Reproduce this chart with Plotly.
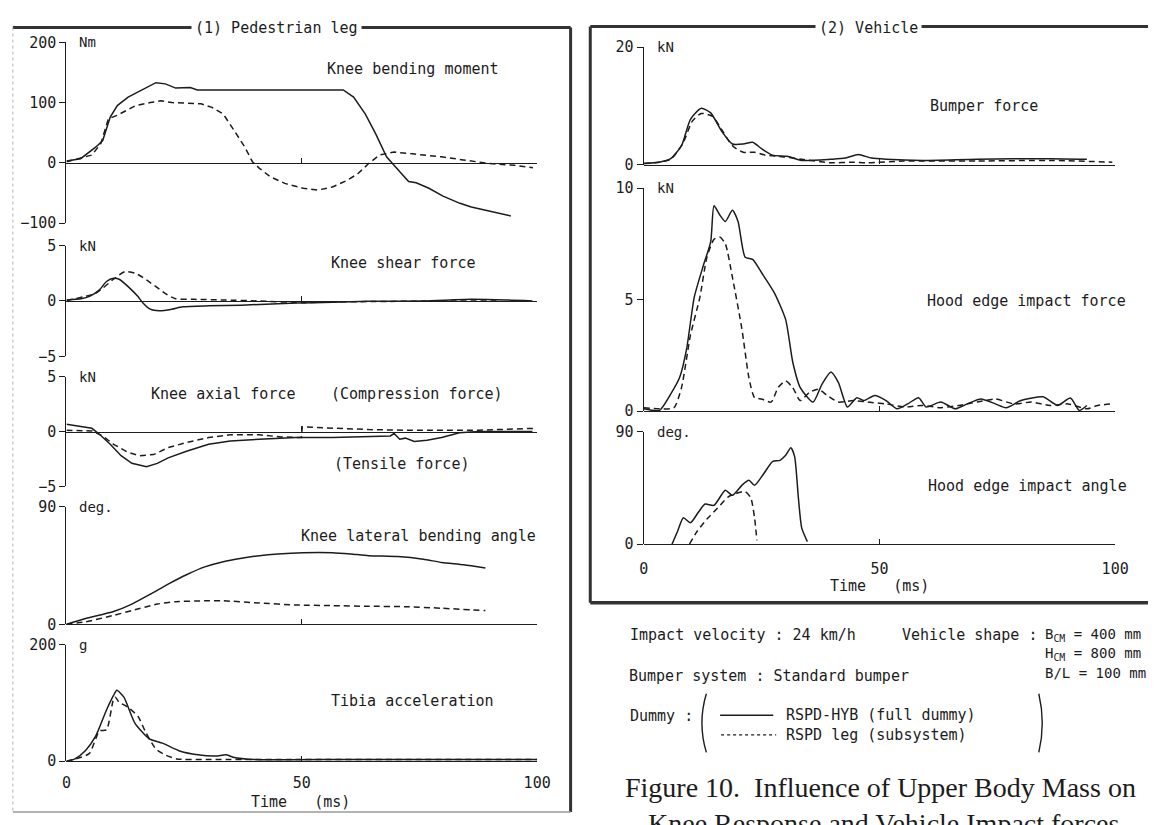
import plotly.graph_objects as go

W, H = 1162, 825
MONO = "DejaVu Sans Mono"
SERIF = "Liberation Serif"
INK = "#1c1c1c"

# ---------------- data (time in ms) ----------------
moment_full_t = [0, 3, 6.2, 7.7, 9.3, 10.8, 13.1, 15.5, 17.8, 19, 21, 23.2, 26.3, 27.8, 58.8, 61, 63.5, 65.7, 68, 69.7, 71.2, 72.7, 74.3, 77, 80, 83.6, 86, 90, 94.4]
moment_full = [3, 7, 26, 37, 76, 95, 109, 119, 128, 133, 131, 124, 125, 121, 121, 109, 81, 48, 10, -4, -18, -31, -33, -42, -55, -67, -73, -80, -88]
moment_leg_t = [0, 5.4, 7.3, 8.9, 10.8, 12.4, 14.7, 17.8, 20.1, 22.4, 25.5, 28.6, 30.9, 33.3, 35.6, 37.9, 39.5, 41, 43.3, 46.4, 50.3, 53.4, 56.5, 59.6, 61.9, 64.2, 66.5, 69.6, 73.5, 79.7, 84.3, 89.8, 95.2, 99.1]
moment_leg = [2, 13, 32, 73, 79, 86, 95, 100, 103, 100, 99, 98, 92, 81, 54, 26, 2, -9, -23, -34, -42, -45, -40, -29, -18, -1, 13, 18, 15, 10, 5, -1, -4, -8]

shear_full_t = [0, 3.1, 5, 7, 8.5, 10, 11.2, 13.1, 15.1, 16.2, 17.8, 19.7, 22.4, 24.7, 30.2, 37.1, 44.9, 52.6, 64.2, 75.8, 85.9, 93.6, 99]
shear_full = [0.1, 0.2, 0.44, 1.0, 1.76, 2.06, 1.97, 1.3, 0.44, -0.15, -0.74, -0.88, -0.74, -0.53, -0.44, -0.38, -0.24, -0.15, -0.03, 0, 0.15, 0.09, 0]
shear_leg_t = [0, 6.2, 10, 12.4, 14.7, 17, 19.3, 21.3, 23.2, 27.1, 33.3, 41, 50.3, 56, 65, 80, 92]
shear_leg = [0.05, 0.7, 1.97, 2.65, 2.5, 1.9, 1.2, 0.6, 0.2, 0.15, 0.09, 0, -0.15, -0.09, -0.05, 0, 0]

axial_full_t = [0, 2.3, 5.4, 7, 9.3, 11.6, 13.9, 17, 19.3, 21.6, 25.5, 30.2, 34.8, 41, 48.7, 56.5, 64.2, 68.8, 69.6, 70.8, 72, 73.9, 76.6, 79.7, 83.5, 87.5, 99]
axial_full = [0.67, 0.5, 0.3, -0.24, -1.16, -2.2, -2.9, -3.2, -2.9, -2.4, -1.8, -1.16, -0.85, -0.7, -0.55, -0.55, -0.49, -0.4, -0.18, -0.7, -0.6, -0.9, -0.8, -0.55, -0.1, 0, 0]
axial_leg_t = [0, 5.4, 7.7, 10, 13.1, 15.5, 18.5, 21.6, 25.5, 30.2, 34.8, 41, 45.7, 49.9, 50.1, 56.5, 64.2, 71.9, 87.5, 99.8]
axial_leg = [0.12, 0.06, -0.4, -1.16, -1.9, -2.2, -2.1, -1.46, -1.0, -0.55, -0.3, -0.3, -0.49, -0.55, 0.43, 0.3, 0.18, 0.12, 0.12, 0.3]

lateral_full_t = [0, 3.9, 10, 13.9, 17.8, 21.7, 25.5, 29.4, 33.3, 37.2, 41, 44.9, 50.3, 56.5, 60.4, 64.2, 70.4, 75.8, 79.7, 84.4, 89]
lateral_full = [0, 4.3, 9.8, 15.5, 23, 31, 38, 44, 48, 50.6, 52.6, 53.9, 54.9, 54.9, 53.9, 52.6, 51.9, 49.9, 47.4, 45.6, 43.1]
lateral_leg_t = [0, 3.9, 10, 13.9, 19.3, 23.2, 29.4, 33.3, 41, 48.8, 56.5, 64.2, 72, 79.7, 89]
lateral_leg = [0, 1.8, 6.8, 10.5, 15.5, 17.3, 18, 18, 16.3, 14.8, 14.3, 13.8, 13.5, 12.3, 10.5]

tibia_full_t = [0, 1.8, 4, 6.2, 8.5, 10, 10.7, 12.2, 14.5, 17.5, 20.4, 24.2, 27.9, 31.7, 33.9, 35.4, 40, 60, 80, 100]
tibia_full = [0, 4, 18, 43, 88, 113, 122, 110, 66, 39, 31, 17, 11, 9, 11, 7, 3, 3, 3, 3]
tibia_leg_t = [0, 4.8, 7, 8.5, 10, 10.4, 11.1, 13, 15.2, 16.7, 19, 21.2, 23.4, 30, 50, 75, 100]
tibia_leg = [0, 13, 52, 54, 107, 110, 102, 93, 77, 52, 21, 10, 4, 3, 3, 3, 3]

bumper_full_t = [0, 3.3, 5.7, 8, 9.9, 12.2, 14.2, 16.5, 18.8, 21.1, 23.1, 25, 27.3, 30.4, 33.5, 39.7, 42.8, 45.5, 48.3, 51.4, 59.1, 70.7, 86.2, 94]
bumper_full = [0.2, 0.4, 1.0, 3.2, 7.7, 9.6, 8.8, 5.7, 3.5, 3.5, 3.8, 2.7, 1.6, 1.4, 0.7, 0.9, 1.1, 1.7, 1.1, 0.9, 0.7, 0.9, 1.0, 0.9]
bumper_leg_t = [0, 5.7, 8.4, 10.3, 12.2, 14.6, 16.5, 18.8, 21.1, 23.5, 25.8, 29.7, 33.5, 39.7, 44.4, 47.5, 55.2, 70.7, 86.2, 99.4]
bumper_leg = [0.1, 0.9, 3.8, 7.4, 8.7, 8.2, 6.0, 3.2, 2.1, 2.1, 1.6, 1.3, 0.9, 0.3, 0.4, 0.3, 0.6, 0.6, 0.7, 0.4]

hood_full_t = [0, 3.3, 5.7, 7.6, 9.1, 10.7, 12.6, 14.2, 14.9, 16.1, 17.3, 18.8, 20, 21.5, 23.1, 25, 27.7, 30.1, 31.6, 33.2, 35.9, 37.8, 39.7, 41.3, 43.2, 45.2, 46.7, 49, 51.4, 53.7, 56, 58.3, 59.9, 63, 66.1, 68.4, 71.5, 74.6, 76.9, 80, 84.7, 87.8, 90.5, 92.4, 94]
hood_full = [0.1, 0.03, 0.76, 1.5, 2.8, 5.1, 6.5, 7.6, 9.2, 8.8, 8.5, 9.0, 8.5, 6.9, 6.8, 6.2, 5.3, 4.1, 2.2, 1.05, 0.4, 1.2, 1.75, 1.27, 0.18, 0.6, 0.47, 0.7, 0.47, 0.1, 0.32, 0.6, 0.18, 0.4, 0.1, 0.3, 0.54, 0.32, 0.15, 0.47, 0.64, 0.25, 0.58, 0.03, 0.25]
hood_leg_t = [0, 3.3, 6.4, 8, 9.9, 11.9, 13.4, 14.9, 16.1, 17.3, 18.8, 20.8, 22.3, 23.5, 25, 27, 28.5, 30.1, 31.6, 33.2, 35.1, 37, 39, 41.3, 44.4, 47.5, 51.4, 55.2, 59.1, 63, 66.8, 70.7, 74.6, 78.5, 82.3, 86.2, 90, 94, 96.3, 99.4]
hood_leg = [0.15, 0.1, 0.15, 1.05, 3.4, 5.1, 6.9, 7.7, 7.8, 7.5, 6.0, 3.7, 1.5, 0.6, 0.54, 0.4, 1.05, 1.35, 1.05, 0.47, 0.83, 0.98, 0.69, 0.4, 0.47, 0.4, 0.32, 0.18, 0.25, 0.15, 0.25, 0.4, 0.54, 0.32, 0.4, 0.25, 0.32, 0.1, 0.25, 0.32]

angle_full_t = [6, 7.2, 8.4, 9.9, 11.5, 13, 14.9, 17.3, 18.8, 20.8, 22.3, 23.5, 25.4, 27.3, 28.9, 30.1, 31.2, 32, 32.8, 33.5, 34.7]
angle_full = [0, 10.5, 21, 17, 25, 32, 31, 43, 39, 47, 51, 47, 56, 66, 67, 71, 77, 70, 37, 13, 2]
angle_leg_t = [9.7, 11.1, 13.4, 15.7, 18, 20, 21.5, 22.7, 23.5, 24]
angle_leg = [0, 9, 20, 29, 38, 41, 42, 37, 21, 3]

x_ticks = [0, 50, 100]

# ---------------- panel layout (pixel geometry) ----------------
LX = (62.5, 541)
RX = (649.4, 1128.6)
panels = [
    dict(xpx=LX, top=34, bot=219, rng=[-100, 200], ticks=[-100, 0, 100, 200], unit="Nm",
         full=(moment_full_t, moment_full), leg=(moment_leg_t, moment_leg), shape="linear", bottom=False),
    dict(xpx=LX, top=242, bot=355, rng=[-5, 5], ticks=[-5, 0, 5], unit="kN",
         full=(shear_full_t, shear_full), leg=(shear_leg_t, shear_leg), shape="spline", bottom=False),
    dict(xpx=LX, top=376, bot=488, rng=[-5, 5], ticks=[-5, 0, 5], unit="kN",
         full=(axial_full_t, axial_full), leg=(axial_leg_t, axial_leg), shape="linear", bottom=False),
    dict(xpx=LX, top=509, bot=629, rng=[0, 90], ticks=[0, 90], unit="deg.",
         full=(lateral_full_t, lateral_full), leg=(lateral_leg_t, lateral_leg), shape="spline", bottom=False),
    dict(xpx=LX, top=650, bot=769, rng=[0, 200], ticks=[0, 200], unit="g",
         full=(tibia_full_t, tibia_full), leg=(tibia_leg_t, tibia_leg), shape="spline", bottom=True, std=8),
    dict(xpx=RX, top=39, bot=159, rng=[0, 20], ticks=[0, 20], unit="kN",
         full=(bumper_full_t, bumper_full), leg=(bumper_leg_t, bumper_leg), shape="spline", bottom=False),
    dict(xpx=RX, top=183, bot=411, rng=[0, 10], ticks=[0, 5, 10], unit="kN",
         full=(hood_full_t, hood_full), leg=(hood_leg_t, hood_leg), shape="spline", bottom=False),
    dict(xpx=RX, top=432, bot=547, rng=[0, 90], ticks=[0, 90], unit="deg.",
         full=(angle_full_t, angle_full), leg=(angle_leg_t, angle_leg), shape="spline", bottom=True, std=11),
]


def fx(x):
    return x / W


def fy(y):
    return 1 - y / H


fig = go.Figure()
layout = dict(width=W, height=H, margin=dict(l=0, r=0, t=0, b=0),
              paper_bgcolor="white", plot_bgcolor="rgba(0,0,0,0)", showlegend=False)
annotations = []
shapes = []

for i, p in enumerate(panels, start=1):
    xa = "x" if i == 1 else f"x{i}"
    ya = "y" if i == 1 else f"y{i}"
    lo, hi = p["rng"]
    zero_px = p["top"] + (hi - 0) / (hi - lo) * (p["bot"] - p["top"])
    layout[f"xaxis{'' if i == 1 else i}"] = dict(
        domain=[fx(p["xpx"][0]), fx(p["xpx"][1])], range=[0, 100], anchor="free",
        position=fy(zero_px), showline=True, linecolor=INK, linewidth=1.4,
        ticks="inside", ticklen=5, tickwidth=1.2, tickcolor=INK,
        tickvals=x_ticks if p["bottom"] else x_ticks[1:],
        showticklabels=p["bottom"], ticklabelstandoff=p.get("std", 0),
        tickfont=dict(family=MONO, size=15, color=INK),
        showgrid=False, zeroline=False, fixedrange=True)
    layout[f"yaxis{'' if i == 1 else i}"] = dict(
        domain=[fy(p["bot"]), fy(p["top"])], range=[lo, hi], anchor=xa,
        showline=True, linecolor=INK, linewidth=1.4, ticks="outside", ticklen=6,
        tickwidth=1.2, tickcolor=INK, tickvals=p["ticks"],
        tickfont=dict(family=MONO, size=15, color=INK),
        showgrid=False, zeroline=False, fixedrange=True)
    fig.add_trace(go.Scatter(x=p["full"][0], y=p["full"][1], mode="lines", xaxis=xa, yaxis=ya,
                             line=dict(color=INK, width=1.5, shape=p["shape"], smoothing=0.6)))
    fig.add_trace(go.Scatter(x=p["leg"][0], y=p["leg"][1], mode="lines", xaxis=xa, yaxis=ya,
                             line=dict(color=INK, width=1.5, dash="6px,4px", shape=p["shape"], smoothing=0.6)))
    ux = p["xpx"][0] + 11
    annotations.append(dict(text=p["unit"], x=fx(ux), y=fy(p["top"]), xref="paper", yref="paper",
                            xanchor="left", yanchor="middle", showarrow=False,
                            font=dict(family=MONO, size=14, color=INK)))


def text(t, x, y, size=15, xanchor="center", family=MONO, bg=None):
    d = dict(text=t, x=fx(x), y=fy(y), xref="paper", yref="paper", xanchor=xanchor,
             yanchor="middle", showarrow=False, font=dict(family=family, size=size, color=INK))
    if bg:
        d.update(bgcolor=bg, borderpad=3)
    annotations.append(d)


# curve labels
text("Knee bending moment", 415, 61)
text("Knee shear force", 405, 260)
text("Knee axial force", 222, 394)
text("(Compression force)", 419, 394)
text("(Tensile force)", 403, 465)
text("Knee lateral bending angle", 420, 539)
text("Tibia acceleration", 414, 707)
text("Bumper force", 995, 99)
text("Hood edge impact force", 1038, 299)
text("Hood edge impact angle", 1039, 488)
text("Time\u00a0\u00a0\u00a0(ms)", 300, 811)
text("Time\u00a0\u00a0\u00a0(ms)", 889, 590)

# frames
def line(x0, y0, x1, y1, w, c=INK, dash=None):
    ln = dict(color=c, width=w)
    if dash:
        ln["dash"] = dash
    shapes.append(dict(type="line", xref="paper", yref="paper", x0=fx(x0), y0=fy(y0),
                       x1=fx(x1), y1=fy(y1), line=ln, layer="below"))


line(8, 19, 575, 19, 3, "#333")
line(575, 19, 575, 821, 3, "#333")
line(8, 19, 8, 821, 1, "#b5b5b5", "dot")
line(8, 821, 575, 821, 1.5, "#9a9a9a")
line(595, 18, 1162, 18, 3, "#333")
line(595, 18, 595, 607, 3, "#333")
line(595, 607, 1162, 607, 3.5, "#333")
text("(1) Pedestrian leg", 276, 19, bg="white")
text("(2) Vehicle", 878, 19, bg="white")

# conditions / legend block
text("Impact velocity : 24 km/h", 633, 640, xanchor="left")
text("Vehicle shape :", 910, 640, xanchor="left")
text("B<sub>CM</sub> = 400 mm", 1055, 640, xanchor="left", size=14)
text("H<sub>CM</sub> = 800 mm", 1055, 659, xanchor="left", size=14)
text("B/L = 100 mm", 1055, 679, xanchor="left", size=14)
text("Bumper system : Standard bumper", 632, 682, xanchor="left")
text("Dummy :", 633, 723, xanchor="left")
text("RSPD-HYB (full dummy)", 792, 722, xanchor="left")
text("RSPD leg (subsystem)", 792, 742, xanchor="left")
line(727, 722, 781, 722, 1.5)
line(728, 742, 784, 742, 1.2, INK, "dot")
shapes.append(dict(type="path", xref="paper", yref="paper", layer="below",
                   path=f"M {fx(713)} {fy(700)} Q {fx(704)} {fy(730)} {fx(713)} {fy(760)}",
                   line=dict(color=INK, width=1.4)))
shapes.append(dict(type="path", xref="paper", yref="paper", layer="below",
                   path=f"M {fx(1051)} {fy(700)} Q {fx(1058)} {fy(730)} {fx(1051)} {fy(760)}",
                   line=dict(color=INK, width=1.4)))

# caption
text("Figure 10.\u00a0 Influence of Upper Body Mass on", 628, 796, size=28, xanchor="left", family=SERIF)
text("Knee Response and Vehicle Impact forces", 652, 833, size=28, xanchor="left", family=SERIF)

layout["annotations"] = annotations
layout["shapes"] = shapes
fig.update_layout(**layout)
fig.write_html("out.html")
